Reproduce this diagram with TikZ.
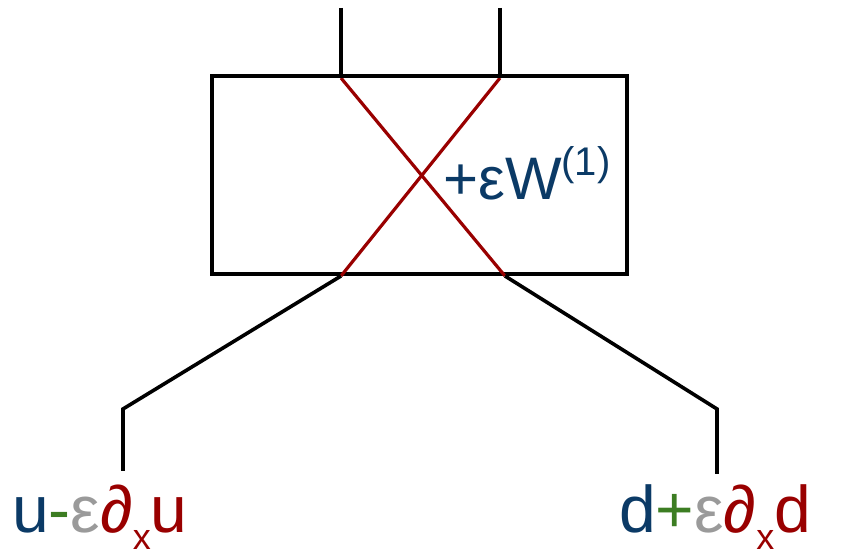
\documentclass[tikz,border=0pt]{standalone}
\usepackage{fontspec}
\setmainfont{Liberation Sans}
\definecolor{navy}{HTML}{0B3A66}
\definecolor{dgreen}{HTML}{3C7D22}
\definecolor{lgray}{HTML}{9A9A9A}
\definecolor{dred}{HTML}{990000}
\newcommand{\subx}{\raisebox{-17pt}{\fontsize{36}{38}\selectfont x}}
\newcommand{\supone}{\raisebox{24pt}{\fontsize{40}{42}\selectfont (1)}}
\begin{document}
\begin{tikzpicture}[x=1pt,y=1pt,
  wire/.style={draw=black,line width=3.6pt},
  cross/.style={draw=dred,line width=3.2pt},
  lbl/.style={inner sep=0pt,anchor=base west,font=\fontsize{66}{70}\selectfont}]
\useasboundingbox (0,0) rectangle (865,559);
\node[draw=black,line width=3.6pt,minimum width=415pt,minimum height=198pt,inner sep=0pt,anchor=south west] (box) at (210,283) {};
\coordinate (tl) at (341,481);
\coordinate (tr) at (500,481);
\coordinate (bl) at (341,283);
\coordinate (br) at (505,283);
\coordinate (topl) at (341,551);
\coordinate (topr) at (500,551);
\coordinate (bendl) at (123,150);
\coordinate (bendr) at (717,150);
\coordinate (endl) at (123,88);
\coordinate (endr) at (717,85);
\draw[cross] (tl) -- (br);
\draw[cross] (tr) -- (bl);
\draw[wire] (topl) -- (tl);
\draw[wire] (topr) -- (tr);
\draw[wire,line join=miter] (bl) -- (bendl) -- (endl);
\draw[wire,line join=miter] (br) -- (bendr) -- (endr);
\node[lbl,font=\fontsize{60}{66}\selectfont] (w) at (443,359) {\textcolor{navy}{+εW\supone}};
\node[lbl] (u) at (12,26) {\textcolor{navy}{u}\textcolor{dgreen}{-}\textcolor{lgray}{ε}\textcolor{dred}{\textit{∂}\subx u}};
\node[lbl] (d) at (619,26) {\textcolor{navy}{d}\textcolor{dgreen}{+}\textcolor{lgray}{ε}\textcolor{dred}{\textit{∂}\subx d}};
\end{tikzpicture}
\end{document}
